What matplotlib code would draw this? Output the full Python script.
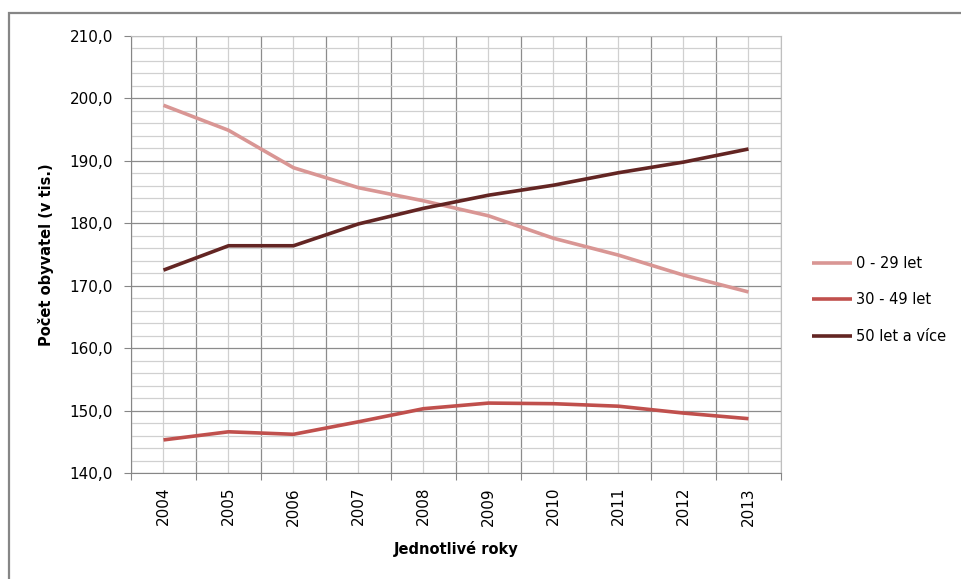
import matplotlib
matplotlib.use("Agg")
import matplotlib.pyplot as plt
from matplotlib.patches import Rectangle
from matplotlib.ticker import FuncFormatter, MultipleLocator, FixedLocator

plt.rcParams['font.family'] = ['DejaVu Sans']

# data
years = [2004, 2005, 2006, 2007, 2008, 2009, 2010, 2011, 2012, 2013]
labels = ["0 - 29 let", "30 - 49 let", "50 let a více"]
young = [198.9, 194.9, 188.9, 185.7, 183.6, 181.2, 177.6, 174.9, 171.7, 169.0]
middle = [145.3, 146.6, 146.2, 148.2, 150.3, 151.2, 151.1, 150.7, 149.6, 148.7]
old = [172.5, 176.4, 176.4, 179.9, 182.4, 184.5, 186.1, 188.1, 189.8, 191.9]
colors = ["#D99694", "#C0504D", "#632523"]

W, H = 962, 579
fig = plt.figure(figsize=(W / 100, H / 100), dpi=100)
ax = fig.add_axes([131 / W, 1 - 473 / H, 650 / W, 437 / H])

# outer chart frame (right and bottom edges fall outside the image)
fig.patches.append(Rectangle((9 / W, -0.1), 1.2, 1 - 13 / H + 0.1,
                             transform=fig.transFigure, fill=False,
                             edgecolor="#868686", linewidth=1.6))

for vals, lab, col in zip([young, middle, old], labels, colors):
    ax.plot(years, vals, color=col, linewidth=2.6, label=lab,
            solid_capstyle="butt")

ax.set_xlim(years[0] - 0.5, years[-1] + 0.5)
ax.set_ylim(140, 210)

# y axis
ax.yaxis.set_major_locator(MultipleLocator(10))
ax.yaxis.set_minor_locator(MultipleLocator(2))
ax.yaxis.set_major_formatter(FuncFormatter(lambda v, p: f"{v:.1f}".replace(".", ",")))
ax.tick_params(axis="y", which="major", length=5, color="#868686",
               labelsize=11, labelcolor="#000000", pad=8)
ax.tick_params(axis="y", which="minor", length=0)

# x axis: ticks at category boundaries, labels at centres
bounds = [y - 0.5 for y in years] + [years[-1] + 0.5]
ax.xaxis.set_major_locator(FixedLocator(bounds))
ax.xaxis.set_minor_locator(FixedLocator(years))
ax.set_xticklabels([""] * len(bounds))
ax.set_xticklabels([str(y) for y in years], minor=True, rotation=90)
ax.tick_params(axis="x", which="major", length=5, color="#868686")
ax.tick_params(axis="x", which="minor", length=0, labelsize=11, pad=10)

ax.grid(which="major", color="#8C8C8C", linewidth=0.9)
ax.grid(which="minor", color="#D0D0D0", linewidth=0.9)
ax.set_axisbelow(True)

for side in ["top", "right"]:
    ax.spines[side].set_color("#BFBFBF")
for side in ["left", "bottom"]:
    ax.spines[side].set_color("#868686")

fig.text(46 / W, 1 - 255 / H, "Počet obyvatel (v tis.)", rotation=90,
         ha="center", va="center", fontsize=10.5, fontweight="bold")
fig.text(456 / W, 1 - 549 / H, "Jednotlivé roky", ha="center", va="center",
         fontsize=10.5, fontweight="bold")

leg = ax.legend(loc="center left", bbox_to_anchor=(812 / W, 1 - 300 / H),
                bbox_transform=fig.transFigure, frameon=False,
                fontsize=10.5, handlelength=2.75, handletextpad=0.25,
                labelspacing=1.45, borderpad=0, borderaxespad=0)

fig.savefig("out.png", dpi=100)
